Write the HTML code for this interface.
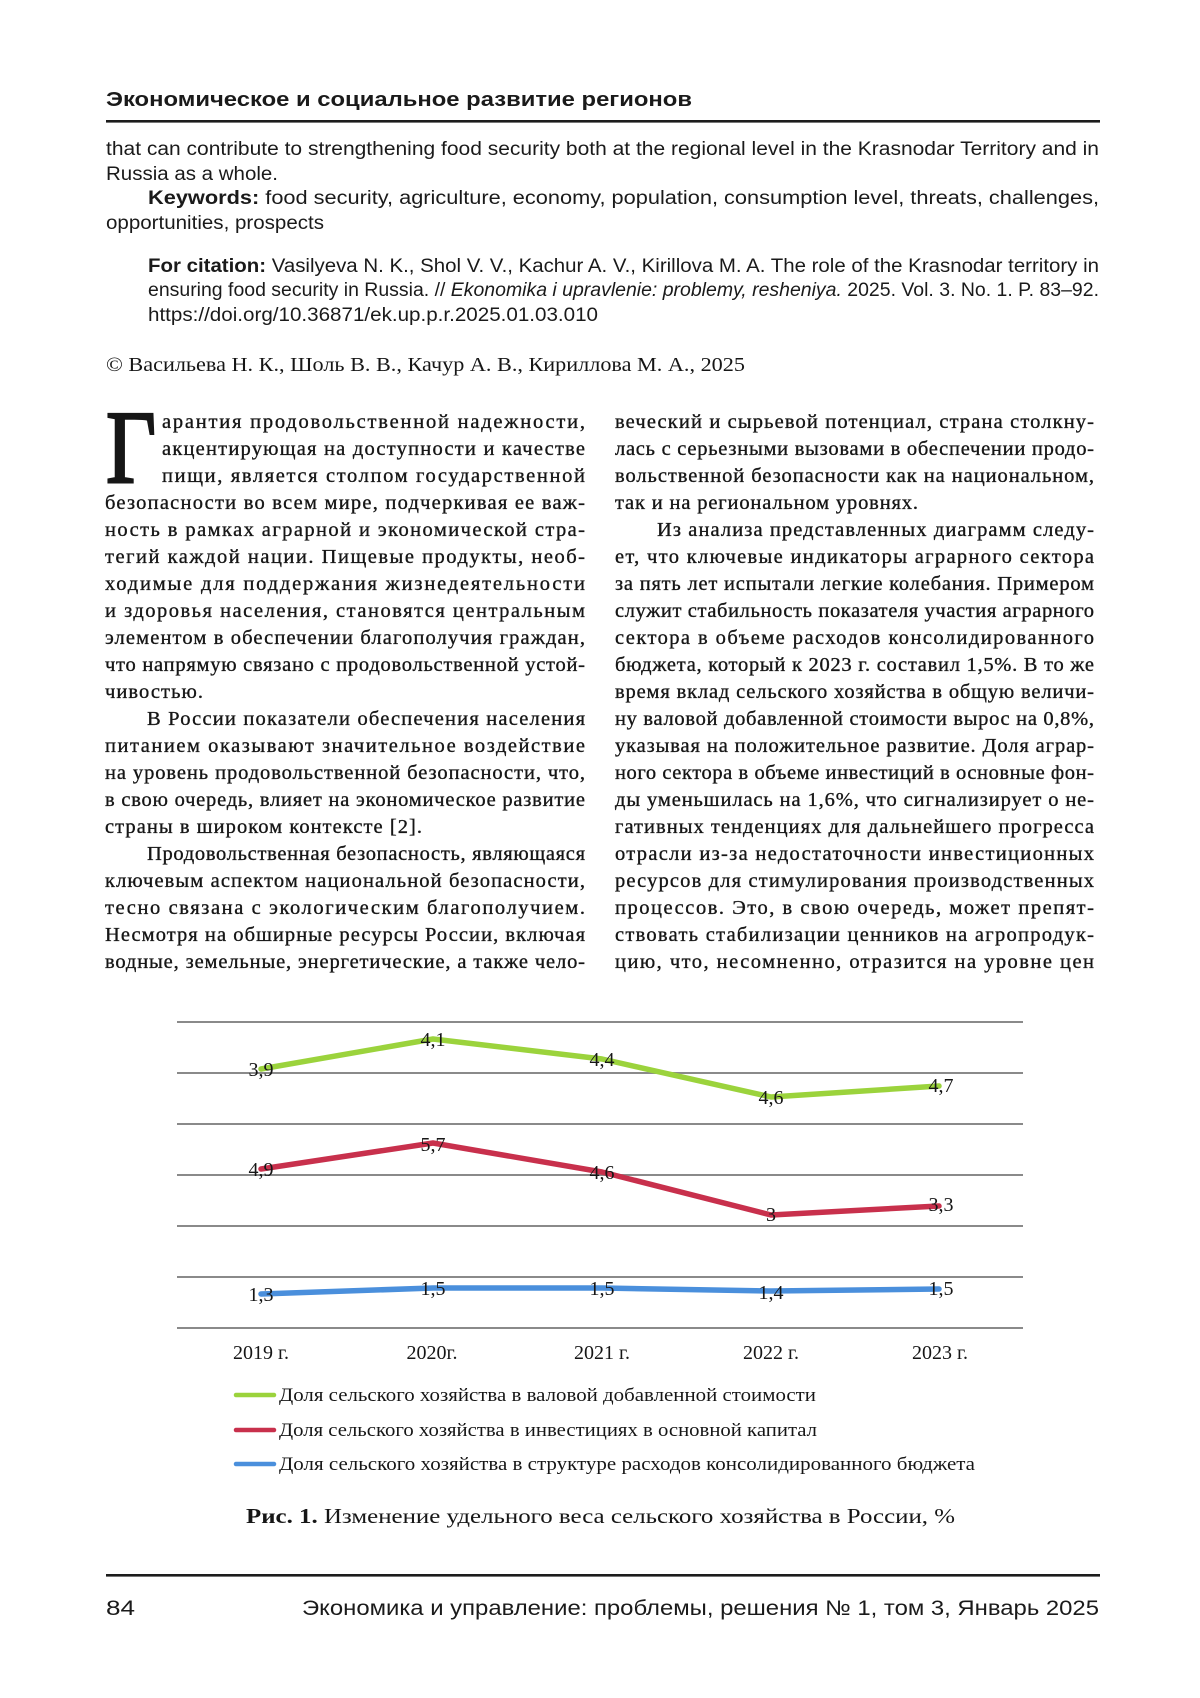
<!DOCTYPE html>
<html><head><meta charset="utf-8"><style>
html,body{margin:0;padding:0;background:#fff;}
svg{display:block;}
.s{font-family:"Liberation Sans",sans-serif;fill:#1a1a1a;}
.r{font-family:"Liberation Serif",serif;fill:#161616;}
.b{stroke:#161616;stroke-width:0.35;}
</style></head><body>
<svg width="1200" height="1698" viewBox="0 0 1200 1698" xmlns="http://www.w3.org/2000/svg">
<rect width="1200" height="1698" fill="#fff"/>
<!-- header -->
<text class="s" x="106" y="106" font-size="20" font-weight="bold" textLength="586" lengthAdjust="spacingAndGlyphs">Экономическое и социальное развитие регионов</text>
<rect x="106" y="120" width="994" height="2.6" fill="#1c1c1c"/>

<!-- abstract -->
<g class="s" font-size="19">
<text x="106" y="155" textLength="993" lengthAdjust="spacingAndGlyphs">that can contribute to strengthening food security both at the regional level in the Krasnodar Territory and in</text>
<text x="106" y="180" textLength="172" lengthAdjust="spacingAndGlyphs">Russia as a whole.</text>
<text x="148" y="204" textLength="951" lengthAdjust="spacingAndGlyphs"><tspan font-weight="bold">Keywords:</tspan> food security, agriculture, economy, population, consumption level, threats, challenges,</text>
<text x="106" y="229" textLength="218" lengthAdjust="spacingAndGlyphs">opportunities, prospects</text>
<text x="148" y="272" textLength="951" lengthAdjust="spacingAndGlyphs"><tspan font-weight="bold">For citation:</tspan> Vasilyeva N. K., Shol V. V., Kachur A. V., Kirillova M. A. The role of the Krasnodar territory in</text>
<text x="148" y="296" textLength="951" lengthAdjust="spacingAndGlyphs">ensuring food security in Russia. // <tspan font-style="italic">Ekonomika i upravlenie: problemy, resheniya.</tspan> 2025. Vol. 3. No. 1. P. 83–92.</text>
<text x="148" y="321" textLength="450" lengthAdjust="spacingAndGlyphs">https://doi.org/10.36871/ek.up.p.r.2025.01.03.010</text>
</g>
<text class="r" x="106" y="371" font-size="20" textLength="639" lengthAdjust="spacingAndGlyphs">© Васильева Н. К., Шоль В. В., Качур А. В., Кириллова М. А., 2025</text>

<!-- body left column -->
<text class="r" x="106" y="482" font-size="104" textLength="50" lengthAdjust="spacingAndGlyphs" stroke="#161616" stroke-width="2.5">Г</text>
<g class="r b" font-size="20.5">
<text x="162" y="428" textLength="423" lengthAdjust="spacing">арантия продовольственной надежности,</text>
<text x="162" y="455" textLength="423" lengthAdjust="spacing">акцентирующая на доступности и качестве</text>
<text x="162" y="482" textLength="423" lengthAdjust="spacing">пищи, является столпом государственной</text>
<text x="105" y="509" textLength="480" lengthAdjust="spacing">безопасности во всем мире, подчеркивая ее важ-</text>
<text x="105" y="536" textLength="480" lengthAdjust="spacing">ность в рамках аграрной и экономической стра-</text>
<text x="105" y="563" textLength="480" lengthAdjust="spacing">тегий каждой нации. Пищевые продукты, необ-</text>
<text x="105" y="590" textLength="480" lengthAdjust="spacing">ходимые для поддержания жизнедеятельности</text>
<text x="105" y="617" textLength="480" lengthAdjust="spacing">и здоровья населения, становятся центральным</text>
<text x="105" y="644" textLength="480" lengthAdjust="spacing">элементом в обеспечении благополучия граждан,</text>
<text x="105" y="671" textLength="480" lengthAdjust="spacing">что напрямую связано с продовольственной устой-</text>
<text x="105" y="698" textLength="98" lengthAdjust="spacing">чивостью.</text>
<text x="147" y="725" textLength="438" lengthAdjust="spacing">В России показатели обеспечения населения</text>
<text x="105" y="752" textLength="480" lengthAdjust="spacing">питанием оказывают значительное воздействие</text>
<text x="105" y="779" textLength="480" lengthAdjust="spacing">на уровень продовольственной безопасности, что,</text>
<text x="105" y="806" textLength="480" lengthAdjust="spacing">в свою очередь, влияет на экономическое развитие</text>
<text x="105" y="833" textLength="317" lengthAdjust="spacing">страны в широком контексте [2].</text>
<text x="147" y="860" textLength="438" lengthAdjust="spacing">Продовольственная безопасность, являющаяся</text>
<text x="105" y="887" textLength="480" lengthAdjust="spacing">ключевым аспектом национальной безопасности,</text>
<text x="105" y="914" textLength="480" lengthAdjust="spacing">тесно связана с экологическим благополучием.</text>
<text x="105" y="941" textLength="480" lengthAdjust="spacing">Несмотря на обширные ресурсы России, включая</text>
<text x="105" y="968" textLength="480" lengthAdjust="spacing">водные, земельные, энергетические, а также чело-</text>
</g>

<!-- body right column -->
<g class="r b" font-size="20.5">
<text x="615" y="428" textLength="479" lengthAdjust="spacing">веческий и сырьевой потенциал, страна столкну-</text>
<text x="615" y="455" textLength="479" lengthAdjust="spacing">лась с серьезными вызовами в обеспечении продо-</text>
<text x="615" y="482" textLength="479" lengthAdjust="spacing">вольственной безопасности как на национальном,</text>
<text x="615" y="509" textLength="303" lengthAdjust="spacing">так и на региональном уровнях.</text>
<text x="657" y="536" textLength="437" lengthAdjust="spacing">Из анализа представленных диаграмм следу-</text>
<text x="615" y="563" textLength="479" lengthAdjust="spacing">ет, что ключевые индикаторы аграрного сектора</text>
<text x="615" y="590" textLength="479" lengthAdjust="spacing">за пять лет испытали легкие колебания. Примером</text>
<text x="615" y="617" textLength="479" lengthAdjust="spacing">служит стабильность показателя участия аграрного</text>
<text x="615" y="644" textLength="479" lengthAdjust="spacing">сектора в объеме расходов консолидированного</text>
<text x="615" y="671" textLength="479" lengthAdjust="spacing">бюджета, который к 2023 г. составил 1,5%. В то же</text>
<text x="615" y="698" textLength="479" lengthAdjust="spacing">время вклад сельского хозяйства в общую величи-</text>
<text x="615" y="725" textLength="479" lengthAdjust="spacing">ну валовой добавленной стоимости вырос на 0,8%,</text>
<text x="615" y="752" textLength="479" lengthAdjust="spacing">указывая на положительное развитие. Доля аграр-</text>
<text x="615" y="779" textLength="479" lengthAdjust="spacing">ного сектора в объеме инвестиций в основные фон-</text>
<text x="615" y="806" textLength="479" lengthAdjust="spacing">ды уменьшилась на 1,6%, что сигнализирует о не-</text>
<text x="615" y="833" textLength="479" lengthAdjust="spacing">гативных тенденциях для дальнейшего прогресса</text>
<text x="615" y="860" textLength="479" lengthAdjust="spacing">отрасли из-за недостаточности инвестиционных</text>
<text x="615" y="887" textLength="479" lengthAdjust="spacing">ресурсов для стимулирования производственных</text>
<text x="615" y="914" textLength="479" lengthAdjust="spacing">процессов. Это, в свою очередь, может препят-</text>
<text x="615" y="941" textLength="479" lengthAdjust="spacing">ствовать стабилизации ценников на агропродук-</text>
<text x="615" y="968" textLength="479" lengthAdjust="spacing">цию, что, несомненно, отразится на уровне цен</text>
</g>

<!-- chart gridlines -->
<g fill="#8a8a8a">
<rect x="177" y="1021" width="846" height="2"/>
<rect x="177" y="1072" width="846" height="2"/>
<rect x="177" y="1123" width="846" height="2"/>
<rect x="177" y="1174" width="846" height="2"/>
<rect x="177" y="1225" width="846" height="2"/>
<rect x="177" y="1276" width="846" height="2"/>
<rect x="177" y="1327" width="846" height="2"/>
</g>
<!-- series -->
<g fill="none" stroke-width="5.5" stroke-linejoin="round" stroke-linecap="round">
<polyline stroke="#9bd33c" points="261,1069 433,1039 602,1059 771,1097 939,1086"/>
<polyline stroke="#c8304c" points="261,1169 433,1143 602,1172 771,1215 939,1206"/>
<polyline stroke="#4a8fdc" points="261,1294 433,1288 602,1288 771,1291 939,1289"/>
</g>
<!-- data labels -->
<g class="r" font-size="20" text-anchor="middle" fill="#111">
<text x="261" y="1076">3,9</text>
<text x="433" y="1046">4,1</text>
<text x="602" y="1066">4,4</text>
<text x="771" y="1104">4,6</text>
<text x="941" y="1092">4,7</text>
<text x="261" y="1176">4,9</text>
<text x="433" y="1151">5,7</text>
<text x="602" y="1179">4,6</text>
<text x="771" y="1221">3</text>
<text x="941" y="1211">3,3</text>
<text x="261" y="1301">1,3</text>
<text x="433" y="1295">1,5</text>
<text x="602" y="1295">1,5</text>
<text x="771" y="1299">1,4</text>
<text x="941" y="1295">1,5</text>
</g>
<!-- x axis labels -->
<g class="r" font-size="20" text-anchor="middle" fill="#111">
<text x="261" y="1359">2019 г.</text>
<text x="432" y="1359">2020г.</text>
<text x="602" y="1359">2021 г.</text>
<text x="771" y="1359">2022 г.</text>
<text x="940" y="1359">2023 г.</text>
</g>
<!-- legend -->
<g stroke-width="4.5" stroke-linecap="round">
<line x1="236" y1="1395" x2="274" y2="1395" stroke="#9bd33c"/>
<line x1="236" y1="1430" x2="274" y2="1430" stroke="#c8304c"/>
<line x1="236" y1="1464" x2="274" y2="1464" stroke="#4a8fdc"/>
</g>
<g class="r" font-size="18.5" fill="#111">
<text x="279" y="1401" textLength="537" lengthAdjust="spacingAndGlyphs">Доля сельского хозяйства в валовой добавленной стоимости</text>
<text x="279" y="1436" textLength="538" lengthAdjust="spacingAndGlyphs">Доля сельского хозяйства в инвестициях в основной капитал</text>
<text x="279" y="1470" textLength="696" lengthAdjust="spacingAndGlyphs">Доля сельского хозяйства в структуре  расходов консолидированного бюджета</text>
</g>
<!-- caption -->
<text class="r" x="246" y="1523" font-size="21" textLength="709" lengthAdjust="spacingAndGlyphs"><tspan font-weight="bold">Рис. 1.</tspan> Изменение удельного веса сельского хозяйства в России, %</text>

<!-- footer -->
<rect x="106" y="1574" width="994" height="2.6" fill="#1c1c1c"/>
<text class="s" x="106" y="1615" font-size="21" textLength="29" lengthAdjust="spacingAndGlyphs">84</text>
<text class="s" x="302" y="1615" font-size="21" textLength="797" lengthAdjust="spacingAndGlyphs">Экономика и управление: проблемы, решения № 1, том 3, Январь 2025</text>
</svg>
</body></html>
